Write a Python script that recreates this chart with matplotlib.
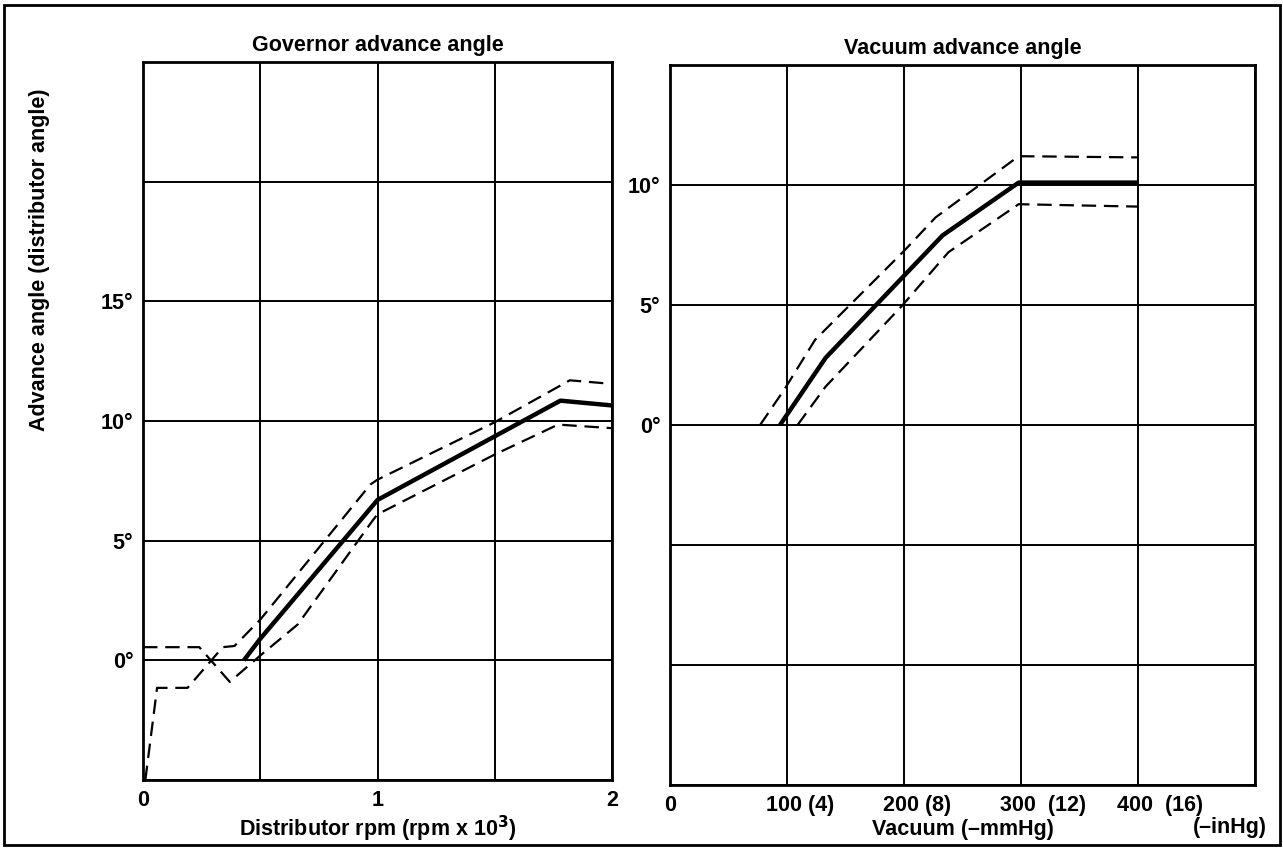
import matplotlib.pyplot as plt
from matplotlib.patches import Rectangle
import matplotlib.transforms as mtransforms

plt.rcParams['font.family'] = ['Liberation Sans', 'DejaVu Sans']

# Governor advance angle (x: rpm x 10^3, y: degrees)
gov_rpm = [0.43, 0.5, 1.0, 1.78, 2.0]
gov_angle = [0.0, 0.9, 6.7, 10.85, 10.65]

gov_upper_rpm = [0.01, 0.06, 0.19, 0.34, 0.39, 0.5, 0.97, 1.0, 1.5, 1.82, 2.0]
gov_upper_angle = [-5.0, -1.15, -1.15, 0.55, 0.6, 1.7, 7.35, 7.55, 9.95, 11.7, 11.55]

gov_lower_rpm = [0.0, 0.24, 0.37, 0.5, 0.66, 0.98, 1.0, 1.5, 1.77, 2.0]
gov_lower_angle = [0.55, 0.55, -0.9, 0.2, 1.5, 5.85, 6.1, 8.6, 9.85, 9.7]

# Vacuum advance angle (x: -mmHg, y: degrees)
vac_mmhg = [94, 133, 233, 298, 400]
vac_angle = [0.0, 2.8, 7.9, 10.1, 10.1]

vac_upper_mmhg = [77, 98, 124, 200, 227, 298, 400]
vac_upper_angle = [0.0, 1.5, 3.55, 7.25, 8.65, 11.2, 11.15]

vac_lower_mmhg = [109, 133, 198, 238, 298, 400]
vac_lower_angle = [0.0, 1.6, 4.95, 7.2, 9.2, 9.1]

gov_xticks = [0, 0.5, 1, 1.5, 2]
gov_xlabels = ['0', '', '1', '', '2']
gov_yticks = [-5, 0, 5, 10, 15, 20, 25]
gov_ylabels = ['', '0°', '5°', '10°', '15°', '', '']

vac_xticks = [0, 100, 200, 300, 400, 500]
vac_xlabels = ['0', '100 (4)', '200 (8)', '300  (12)', '400  (16)', '']
vac_yticks = [-15, -10, -5, 0, 5, 10, 15]
vac_ylabels = ['', '', '', '0°', '5°', '10°', '']

W, H = 1283, 852
fig = plt.figure(figsize=(W / 100, H / 100), dpi=100)

ax1 = fig.add_axes([143 / W, 1 - 780 / H, (612 - 143) / W, (780 - 62) / H])
ax2 = fig.add_axes([670 / W, 1 - 785 / H, (1255 - 670) / W, (785 - 65) / H])

fs = 15.5
for ax in (ax1, ax2):
    ax.grid(True, color='black', linewidth=1.4)
    ax.tick_params(length=0, labelsize=fs, pad=7)
    for s in ax.spines.values():
        s.set_linewidth(2.0)

# left panel
ax1.plot(gov_rpm, gov_angle, color='black', linewidth=3.2, solid_capstyle='butt')
l1, = ax1.plot(gov_upper_rpm, gov_upper_angle, color='black', linewidth=1.6)
l2, = ax1.plot(gov_lower_rpm, gov_lower_angle, color='black', linewidth=1.6)
for l in (l1, l2):
    l.set_dashes((6.5, 3.5))
ax1.set_xlim(0, 2)
ax1.set_ylim(-5, 25)
ax1.set_xticks(gov_xticks)
ax1.set_xticklabels(gov_xlabels, fontweight='bold', fontsize=fs)
ax1.set_yticks(gov_yticks)
ax1.set_yticklabels(gov_ylabels, fontweight='bold', fontsize=fs)
ax1.set_title('Governor advance angle', fontsize=fs, fontweight='bold', pad=8)
ax1.set_xlabel('Distributor rpm (rpm x 10$^\\mathbf{3}$)', fontsize=fs, fontweight='bold', labelpad=2)

# right panel
ax2.plot(vac_mmhg, vac_angle, color='black', linewidth=3.2, solid_capstyle='butt')
l3, = ax2.plot(vac_upper_mmhg, vac_upper_angle, color='black', linewidth=1.6)
l4, = ax2.plot(vac_lower_mmhg, vac_lower_angle, color='black', linewidth=1.6)
for l in (l3, l4):
    l.set_dashes((6.5, 3.5))
ax2.set_xlim(0, 500)
ax2.set_ylim(-15, 15)
ax2.set_xticks(vac_xticks)
ax2.set_xticklabels(vac_xlabels, fontweight='bold', fontsize=fs)
ax2.set_yticks(vac_yticks)
ax2.set_yticklabels(vac_ylabels, fontweight='bold', fontsize=fs)
shift = mtransforms.ScaledTranslation(-21 / 100, 0, fig.dpi_scale_trans)
for lab in ax2.get_xticklabels()[1:]:
    lab.set_horizontalalignment('left')
    lab.set_transform(lab.get_transform() + shift)
ax2.set_title('Vacuum advance angle', fontsize=fs, fontweight='bold', pad=8)
ax2.set_xlabel('Vacuum (\u2013mmHg)', fontsize=fs, fontweight='bold', labelpad=2)
ax2.text(1230 / W, 1 - 827 / H, '(\u2013inHg)', transform=fig.transFigure,
         ha='center', va='center', fontsize=fs, fontweight='bold')

fig.text(40 / W, 1 - 260 / H, 'Advance angle (distributor angle)', rotation=90,
         ha='center', va='center', fontsize=fs, fontweight='bold')

fig.patches.append(Rectangle((4 / W, 1 - 845 / H), 1276 / W, 840 / H,
                             transform=fig.transFigure, fill=False,
                             edgecolor='black', linewidth=2.0))

fig.savefig('out.png', dpi=100, facecolor='white')
